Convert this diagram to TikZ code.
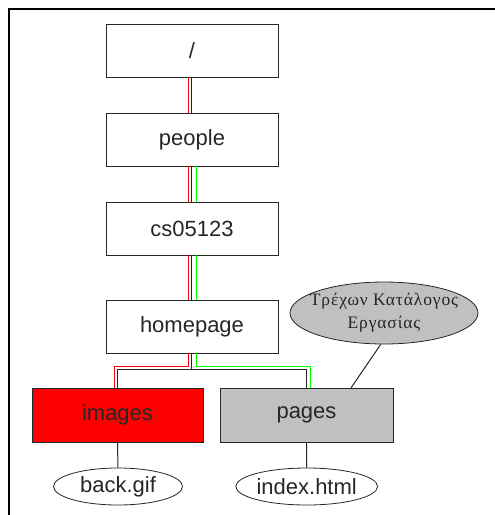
\documentclass[tikz,border=0pt]{standalone}
\usepackage{fontspec}
\setmainfont{Liberation Sans}
\newfontfamily\greekfont[LetterSpace=5]{Liberation Serif}
\usetikzlibrary{shapes.geometric}
\definecolor{boxgray}{RGB}{192,192,192}
\definecolor{pathgreen}{RGB}{0,255,0}
\definecolor{pathred}{RGB}{255,0,0}
\tikzset{
  dirbox/.style={draw=black!85, line width=0.8pt, minimum width=172pt, minimum height=53pt, inner sep=0pt, font=\fontsize{22}{24}\selectfont, text=black!85},
  filenode/.style={ellipse, draw=black!85, line width=0.8pt, minimum width=129pt, minimum height=37pt, inner sep=0pt, font=\fontsize{22}{24}\selectfont, text=black!85},
  conn/.style={draw=black!85, line width=1pt},
  redconn/.style={draw=pathred, line width=1pt},
  greenconn/.style={draw=pathgreen, line width=1pt},
  frameline/.style={line width=2pt, black}
}
\begin{document}
\begin{tikzpicture}[x=1pt,y=-1pt]
\useasboundingbox (0,0) rectangle (495,515);
\draw[frameline] (8,9) -- (495,9);
\draw[frameline] (9,8) -- (9,515);

\node[dirbox] (root) at (192,50.5) {/};
\node[dirbox] (people) at (192,139.5) {people};
\node[dirbox] (cs) at (192,228.5) {cs05123};
\node[dirbox] (home) at (192,326.5) {homepage};
\node[dirbox, fill=pathred, minimum width=171pt, minimum height=54pt] (images) at (117.5,415.3) {images};
\node[dirbox, fill=boxgray, minimum width=173pt, minimum height=54pt] (pages) at (306.5,415.3) {pages};
\node[filenode] (back) at (118,486.5) {back.gif};
\node[filenode, minimum width=130pt] (index) at (306.7,486.5) {index.html};
\node[ellipse, draw=black!85, line width=0.8pt, fill=boxgray, minimum width=188pt, minimum height=62pt, inner xsep=-10pt, inner ysep=0pt, align=center, font=\greekfont\fontsize{17.5}{23}\selectfont, text=black!85] (note) at (384,313) {Τρέχων Κατάλογος\\Εργασίας};

% root - people
\draw[redconn] ([xshift=-3.5pt]root.south) -- ([xshift=-3.5pt]people.north);
\draw[conn] ([xshift=-0.5pt]root.south) -- ([xshift=-0.5pt]people.north);
% people - cs
\draw[redconn] ([xshift=-3.5pt]people.south) -- ([xshift=-3.5pt]cs.north);
\draw[conn] ([xshift=-0.5pt]people.south) -- ([xshift=-0.5pt]cs.north);
\draw[greenconn] ([xshift=4.5pt]people.south) -- ([xshift=4.5pt]cs.north);
% cs - home
\draw[redconn] ([xshift=-3.5pt]cs.south) -- ([xshift=-3.5pt]home.north);
\draw[conn] ([xshift=-0.5pt]cs.south) -- ([xshift=-0.5pt]home.north);
\draw[greenconn] ([xshift=4.5pt]cs.south) -- ([xshift=4.5pt]home.north);
% home - images / pages
\draw[redconn] ([xshift=-3.5pt]home.south) -- ++(0,13.5) -| ([xshift=-3pt]images.north);
\draw[greenconn] ([xshift=4.5pt]home.south) -- ++(0,13.5) -| ([xshift=4pt]pages.north);
\draw[conn] ([xshift=-0.5pt]home.south) -- ++(0,16.5) coordinate (fork);
\draw[conn] (images.north) |- (fork) -| (pages.north);
% files
\draw[conn] (images.south) -- (back.north);
\draw[conn] (pages.south) -- (index.north);
% note
\draw[conn] ([xshift=-3.3pt]note.south) -- ([xshift=44.5pt]pages.north);
\end{tikzpicture}
\end{document}
